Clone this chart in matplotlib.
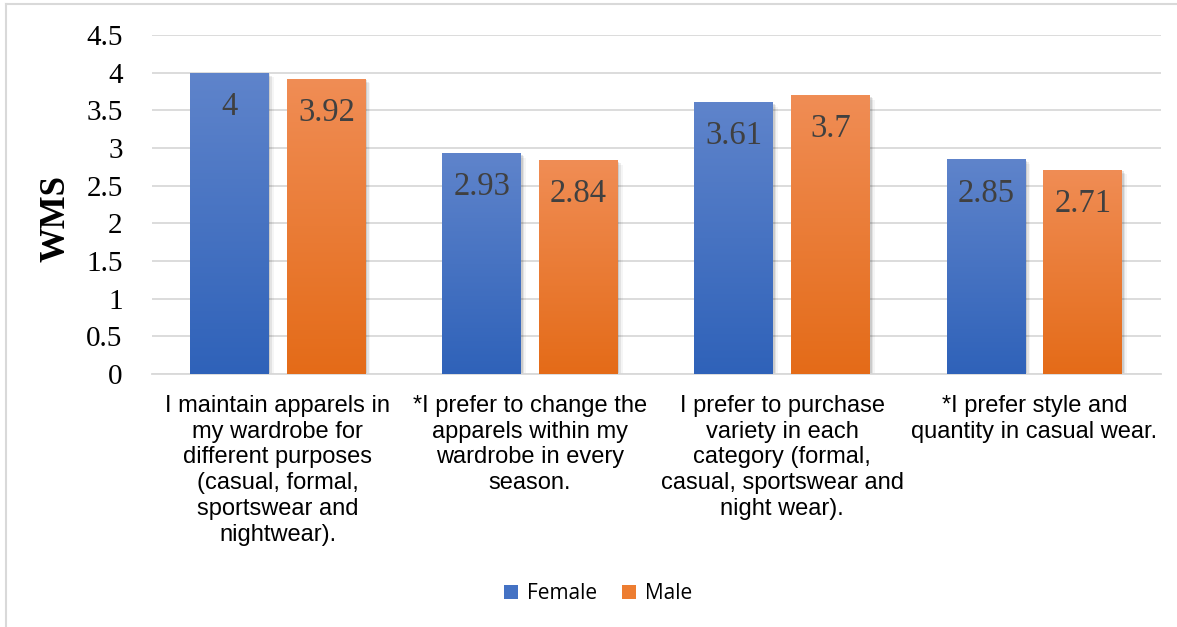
import numpy as np
import matplotlib
matplotlib.use("Agg")
import matplotlib.pyplot as plt
from matplotlib.colors import LinearSegmentedColormap
from matplotlib.lines import Line2D
from matplotlib.patches import Rectangle

# ---- data --------------------------------------------------------------------
categories = [
    "I maintain apparels in\nmy wardrobe for\ndifferent purposes\n(casual, formal,\nsportswear and\nnightwear).",
    "*I prefer to change the\napparels within my\nwardrobe in every\nseason.",
    "I prefer to purchase\nvariety in each\ncategory (formal,\ncasual, sportswear and\nnight wear).",
    "*I prefer style and\nquantity in casual wear.",
]
female = [4, 2.93, 3.61, 2.85]
male = [3.92, 2.84, 3.7, 2.71]
series = [("Female", female), ("Male", male)]

# bottom -> top gradient colours for each series
GRAD = {
    "Female": ("#2f62b9", "#5f84cb"),
    "Male": ("#e46b18", "#f08d55"),
}
SOLID = {"Female": "#4472c4", "Male": "#ed7d31"}

SERIF = ["Liberation Serif", "DejaVu Serif"]
SANS = ["Liberation Sans", "DejaVu Sans"]

BAR_W = 0.313
OFFSET = 0.192

fig = plt.figure(figsize=(11.77, 6.27), dpi=100)
ax = fig.add_axes([0.129, 0.4035, 0.857, 0.5405])

x = np.arange(len(categories))
grad = np.linspace(0, 1, 256).reshape(-1, 1)


def gradient_bar(ax, xc, h, name):
    lo, hi = GRAD[name]
    cmap = LinearSegmentedColormap.from_list(name, [lo, hi])
    x0 = xc - BAR_W / 2
    # soft drop shadow
    for k, a in enumerate([0.10, 0.07, 0.04]):
        d = 0.006 * (k + 1)
        ax.add_patch(Rectangle((x0 + d, -0.02 * (k + 1)), BAR_W, h, facecolor="black",
                               edgecolor="none", alpha=a, zorder=2))
    rect = Rectangle((x0, 0), BAR_W, h, facecolor="none", edgecolor="none", zorder=3)
    ax.add_patch(rect)
    im = ax.imshow(grad, cmap=cmap, origin="lower", aspect="auto",
                   extent=(x0, x0 + BAR_W, 0, h), zorder=3)
    im.set_clip_path(rect)


for j, (name, vals) in enumerate(series):
    for i, v in enumerate(vals):
        xc = x[i] + (j * 2 - 1) * OFFSET
        gradient_bar(ax, xc, v, name)
        ax.text(xc, v - 0.45, f"{v:g}", ha="center", va="center", fontsize=23.5,
                family=SERIF, color="#404040", zorder=4)

ax.set_xlim(-0.5, len(categories) - 0.5)
ax.set_ylim(0, 4.5)
ticks = np.arange(0, 4.51, 0.5)
ax.set_yticks(ticks)
ax.set_yticklabels([f"{t:g}" for t in ticks], family=SERIF, fontsize=21)
ax.set_xticks(x)
ax.set_xticklabels(categories, family=SANS, fontsize=17, linespacing=1.22)
ax.tick_params(axis="y", length=0, pad=21)
ax.tick_params(axis="x", length=0, pad=15)
ax.yaxis.grid(True, color="#d9d9d9", lw=1.3)
ax.set_axisbelow(True)
for s in ["top", "right", "left"]:
    ax.spines[s].set_visible(False)
ax.spines["bottom"].set_color("#d9d9d9")
ax.spines["bottom"].set_linewidth(1.3)

fig.text(0.048, 0.652, "WMS", rotation=90, ha="center", va="center",
         family=SERIF, fontsize=25, fontweight="bold")

handles = [Rectangle((0, 0), 1, 1, facecolor=SOLID[n], edgecolor="none") for n, _ in series]
fig.legend(handles, [n for n, _ in series], loc="center", bbox_to_anchor=(0.508, 0.053),
           ncol=2, frameon=False, prop={"family": ["Open Sans", "DejaVu Sans"], "size": 15},
           handlelength=0.7, handleheight=0.7, handletextpad=0.4, columnspacing=1.2)

# outer chart border (left and top edges)
fig.add_artist(Line2D([0.005, 0.005], [0, 0.994], color="#d9d9d9", lw=1.5))
fig.add_artist(Line2D([0.005, 1.0], [0.994, 0.994], color="#d9d9d9", lw=1.5))

fig.savefig("out.png", dpi=100)
